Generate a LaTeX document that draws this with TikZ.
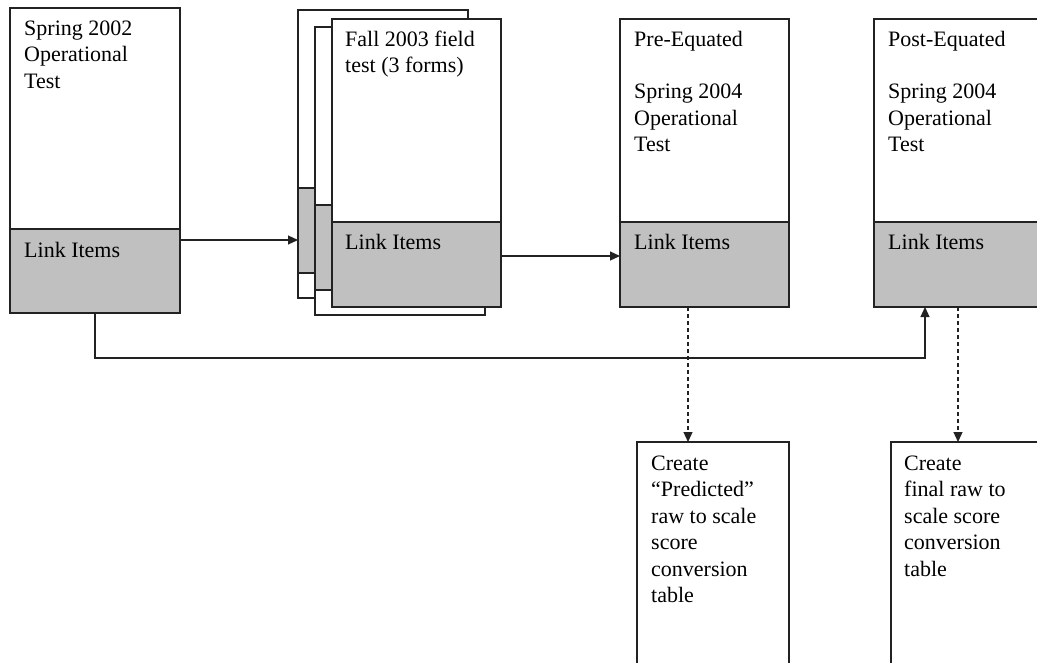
\documentclass[tikz,border=0pt]{standalone}
\usepackage{fontspec}
\setmainfont{Liberation Serif}
\usetikzlibrary{arrows.meta}
\definecolor{linkgray}{HTML}{C0C0C0}
\definecolor{edge}{HTML}{222222}
\begin{document}
\begin{tikzpicture}[x=1pt,y=-1pt,
  box/.style={draw=edge, line width=1.2pt, inner sep=0pt, outer sep=0pt, anchor=north west, fill=white, minimum width=170pt},
  linkbox/.style={box, fill=linkgray},
  txt/.style={anchor=north west, inner sep=0pt, align=left, font=\fontsize{22}{26.5}\selectfont},
  conn/.style={draw=edge, line width=1.2pt, -{Triangle[length=10pt,width=9pt]}},
  dconn/.style={conn, dash pattern=on 4pt off 3pt}]
\useasboundingbox (0,0) rectangle (1037,662);

% Spring 2002
\node[box, minimum height=221pt] (t1) at (10,8) {};
\node[linkbox, minimum height=84pt] (l1) at (10,229) {};
\node[txt] (t1txt) at (24,16.5) {\strut Spring 2002\\Operational\\Test};
\node[txt] (l1txt) at (24,238.5) {\strut Link Items};

% stacked field-test forms
\node[box, minimum height=288pt] (back) at (298,10) {};
\node[linkbox, minimum height=85pt] (backL) at (298,188) {};
\node[box, minimum height=288pt] (mid) at (315,27) {};
\node[linkbox, minimum height=85pt] (midL) at (315,205) {};
\node[box, minimum height=203pt, minimum width=169pt] (front) at (332,19) {};
\node[linkbox, minimum height=85pt, minimum width=169pt] (frontL) at (332,222) {};
\node[txt] (fronttxt) at (345,27.5) {\strut Fall 2003 field\\test (3 forms)};
\node[txt] (frontLtxt) at (345,230.5) {\strut Link Items};

% Pre-Equated
\node[box, minimum height=203pt, minimum width=169pt] (pre) at (620,19) {};
\node[linkbox, minimum height=85pt, minimum width=169pt] (preL) at (620,222) {};
\node[txt] (pretxt) at (634,27.5) {\strut Pre-Equated\\[26pt]Spring 2004\\Operational\\Test};
\node[txt] (preLtxt) at (634,230.5) {\strut Link Items};

% Post-Equated
\node[box, minimum height=203pt] (post) at (874,19) {};
\node[linkbox, minimum height=85pt] (postL) at (874,222) {};
\node[txt] (posttxt) at (888,27.5) {\strut Post-Equated\\[26pt]Spring 2004\\Operational\\Test};
\node[txt] (postLtxt) at (888,230.5) {\strut Link Items};

% conversion tables
\node[box, minimum height=240pt, minimum width=152pt] (c1) at (637,442) {};
\node[txt] (c1txt) at (651,451.5) {\strut Create\\“Predicted”\\raw to scale\\score\\conversion\\table};
\node[box, minimum height=240pt, minimum width=160pt] (c2) at (891,442) {};
\node[txt] (c2txt) at (904,451.5) {\strut Create\\final raw to\\scale score\\conversion\\table};

% connectors
\draw[conn] (l1.east |- 0,240) -- (back.west |- 0,240);
\draw[conn] (frontL.east |- 0,256) -- (preL.west |- 0,256);
\draw[conn] (l1.south) -- (l1.south |- 0,358) -| (postL.south -| 925,0);
\draw[dconn] (preL.south -| 688,0) -- (c1.north -| 688,0);
\draw[dconn] (postL.south -| 958,0) -- (c2.north -| 958,0);
\end{tikzpicture}
\end{document}
